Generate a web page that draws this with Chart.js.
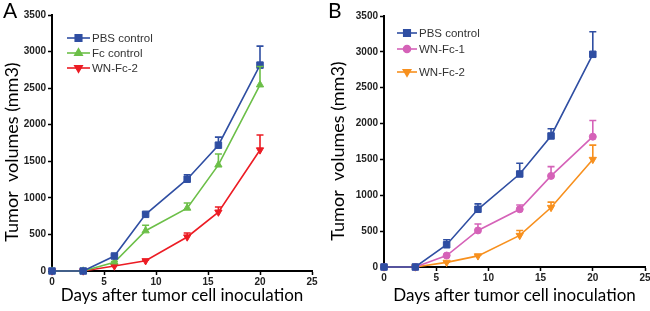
<!DOCTYPE html>
<html><head><meta charset="utf-8">
<script src="https://cdn.jsdelivr.net/npm/chart.js@4/dist/chart.umd.min.js"></script>
<style>
html,body{margin:0;padding:0;background:#fff;}
#wrap{position:relative;width:650px;height:311px;overflow:hidden;}
.panel{position:absolute;top:0;height:311px;}
#pa{left:0;width:325px;}
#pb{left:325px;width:330px;}
.lbl{position:absolute;top:-3px;font-family:Lato, sans-serif;font-size:21px;color:#000;}
</style></head><body>
<div id="wrap">
<div class="panel" id="pa"><canvas id="ca" width="325" height="311"></canvas></div>
<div class="panel" id="pb"><canvas id="cb" width="330" height="311"></canvas></div>
<div class="lbl" style="left:3px">A</div>
<div class="lbl" style="left:328px">B</div>
</div>
<script>
// ---- data ----
const days = [0, 3, 6, 9, 13, 16, 20];
const xTickValues = [0, 5, 10, 15, 20, 25];
const yTickValues = [0, 500, 1000, 1500, 2000, 2500, 3000, 3500];
const xTitle = 'Days after tumor cell inoculation';
const yTitle = 'Tumor  volumes (mm3)';

// Panel A
const aLabels = ['PBS control', 'Fc control', 'WN-Fc-2'];
const aPbs    = [0, 0, 205, 775, 1255, 1720, 2815];
const aPbsErr = [0, 0, 15, 20, 60, 110, 260];
const aFc     = [0, 0, 120, 550, 860, 1450, 2545];
const aFcErr  = [0, 0, 10, 75, 70, 150, 250];
const aWn2    = [0, 0, 68, 140, 465, 805, 1655];
const aWn2Err = [0, 0, 10, 10, 55, 70, 205];

// Panel B
const bLabels = ['PBS control', 'WN-Fc-1', 'WN-Fc-2'];
const bPbs    = [0, 0, 310, 805, 1297, 1827, 2966];
const bPbsErr = [0, 0, 70, 75, 150, 100, 315];
const bWn1    = [0, 0, 160, 510, 805, 1270, 1817];
const bWn1Err = [0, 0, 10, 90, 60, 130, 225];
const bWn2    = [0, 0, 65, 155, 440, 830, 1500];
const bWn2Err = [0, 0, 5, 10, 70, 75, 200];

const BLUE = '#2f4ea2', GREEN = '#6cbf48', RED = '#ec1c24', PINK = '#d562b8', ORANGE = '#f7901e';

function pts(vals){ return days.map((d,i)=>({x:d, y:vals[i]})); }

function ds(label, vals, errs, color, style, rot, radius){
  return {
    label, data: pts(vals), errors: errs,
    borderColor: color, backgroundColor: color,
    borderWidth: 1.6, pointStyle: style, pointRotation: rot,
    pointRadius: radius, pointHoverRadius: radius, pointBorderWidth: 1,
    pointBackgroundColor: color, pointBorderColor: color,
    tension: 0, clip: false
  };
}

const errorBars = {
  id: 'errorBars',
  afterDatasetsDraw(chart){
    const ctx = chart.ctx, ys = chart.scales.y;
    chart.data.datasets.forEach((d, di) => {
      const meta = chart.getDatasetMeta(di);
      ctx.save();
      ctx.strokeStyle = d.borderColor; ctx.lineWidth = 1.6;
      meta.data.forEach((p, i) => {
        const e = d.errors[i];
        if (!e) return;
        const top = ys.getPixelForValue(d.data[i].y + e);
        ctx.beginPath();
        ctx.moveTo(p.x, p.y); ctx.lineTo(p.x, top);
        ctx.moveTo(p.x - 3.5, top); ctx.lineTo(p.x + 3.5, top);
        ctx.stroke();
      });
      ctx.restore();
    });
  }
};

const insideLegend = {
  id: 'insideLegend',
  afterDraw(chart, args, opts){
    const ctx = chart.ctx;
    ctx.save();
    chart.data.datasets.forEach((d, i) => {
      const y = opts.ys[i];
      ctx.strokeStyle = d.borderColor; ctx.lineWidth = 1.6;
      ctx.beginPath(); ctx.moveTo(opts.x, y); ctx.lineTo(opts.x + opts.len, y); ctx.stroke();
      ctx.fillStyle = d.borderColor;
      Chart.helpers.drawPoint(ctx, {pointStyle: d.pointStyle, rotation: d.pointRotation, radius: d.pointRadius, borderWidth: 1}, opts.x + opts.len/2, y);
      ctx.fillStyle = '#333';
      ctx.font = '11.5px "Liberation Sans", Arial, sans-serif';
      ctx.textBaseline = 'middle'; ctx.textAlign = 'left';
      ctx.fillText(d.label, opts.x + opts.len + 2, y + 1);
    });
    // y-axis title
    ctx.save();
    ctx.translate(opts.titleX, opts.titleY);
    ctx.rotate(-Math.PI / 2);
    ctx.fillStyle = '#000';
    ctx.font = '18px Lato, sans-serif';
    ctx.textAlign = 'center'; ctx.textBaseline = 'middle';
    ctx.fillText(yTitle, 0, 0);
    ctx.restore();
    ctx.restore();
  }
};

function makeOptions(pad, yWidth, xHeight, legendOpts){
  const tickFont = {family: '"Liberation Sans", Arial, sans-serif', size: 10, weight: 'bold'};
  const titleFont = {family: 'Lato, sans-serif', size: 17};
  return {
    responsive: false, animation: false,
    layout: {padding: pad},
    plugins: {legend: {display: false}, tooltip: {enabled: false}, insideLegend: legendOpts},
    scales: {
      x: {
        type: 'linear', min: 0, max: 25,
        afterBuildTicks: s => { s.ticks = xTickValues.map(v => ({value: v})); },
        afterFit: s => { s.height = xHeight; },
        ticks: {font: tickFont, color: '#222', padding: 1, maxRotation: 0, autoSkip: false, callback: v => String(v)},
        grid: {drawOnChartArea: false, drawTicks: true, tickLength: 4, color: '#000', tickWidth: 1.5},
        border: {color: '#000', width: 2},
        title: {display: true, text: xTitle, font: titleFont, color: '#000', padding: {top: 2, bottom: 5}}
      },
      y: {
        type: 'linear', min: 0, max: 3500,
        afterBuildTicks: s => { s.ticks = yTickValues.map(v => ({value: v})); },
        afterFit: s => { s.width = yWidth; },
        ticks: {font: tickFont, color: '#222', padding: 2, autoSkip: false, callback: v => String(v)},
        grid: {drawOnChartArea: false, drawTicks: true, tickLength: 4, color: '#000', tickWidth: 1.5},
        border: {color: '#000', width: 2},
        title: {display: false}
      }
    }
  };
}

new Chart(document.getElementById('ca'), {
  type: 'line',
  data: {datasets: [
    ds(aLabels[0], aPbs, aPbsErr, BLUE, 'rect', 0, 4.6),
    ds(aLabels[1], aFc, aFcErr, GREEN, 'triangle', 0, 4.2),
    ds(aLabels[2], aWn2, aWn2Err, RED, 'triangle', 180, 4.2)
  ]},
  options: makeOptions({left: 0, top: 15, right: 13, bottom: 0}, 52, 40, {x: 67, len: 23, ys: [38, 53, 68], titleX: 12, titleY: 152}),
  plugins: [errorBars, insideLegend]
});

new Chart(document.getElementById('cb'), {
  type: 'line',
  data: {datasets: [
    ds(bLabels[0], bPbs, bPbsErr, BLUE, 'rect', 0, 4.6),
    ds(bLabels[1], bWn1, bWn1Err, PINK, 'circle', 0, 3.5),
    ds(bLabels[2], bWn2, bWn2Err, ORANGE, 'triangle', 180, 4.2)
  ]},
  options: makeOptions({left: 0, top: 16, right: 10, bottom: 0}, 59, 44, {x: 72, len: 20, ys: [33, 49, 72], titleX: 13, titleY: 151}),
  plugins: [errorBars, insideLegend]
});
</script>
</body></html>
